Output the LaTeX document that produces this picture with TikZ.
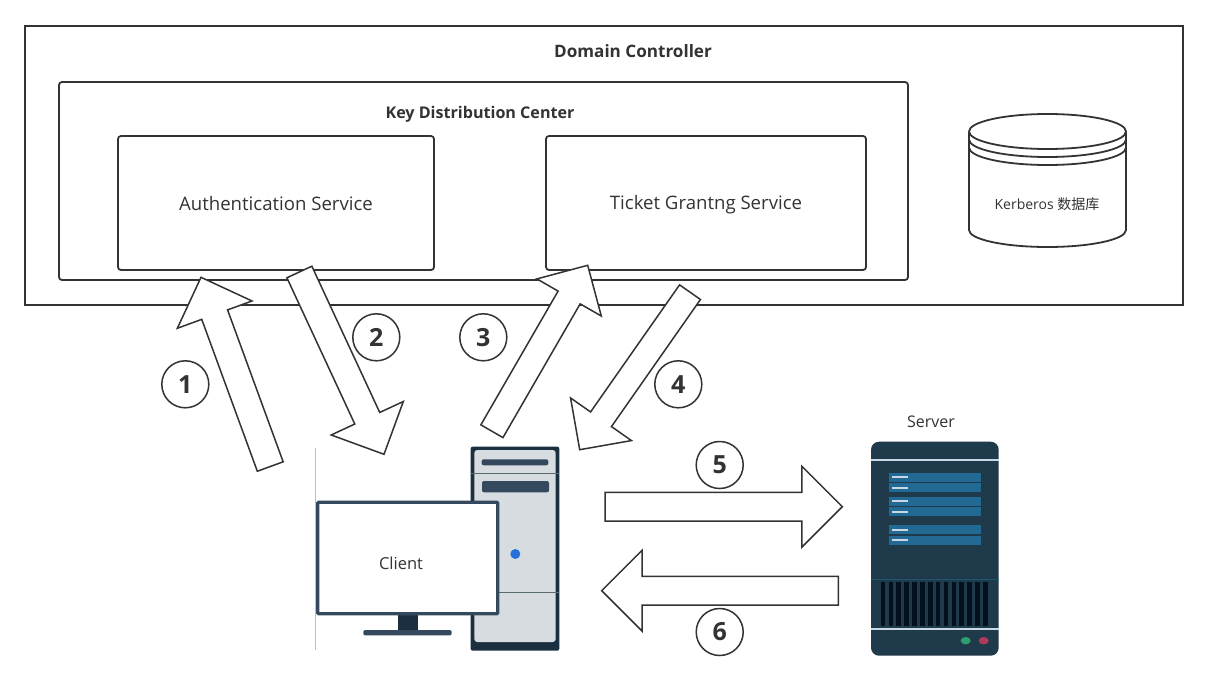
\documentclass[tikz,border=0pt]{standalone}
\usepackage{fontspec}
\setmainfont{Open Sans}
\newfontfamily\cjkfont{Noto Sans CJK SC}
\usetikzlibrary{shapes.arrows,positioning}
\definecolor{inkgray}{HTML}{333333}
\definecolor{towerdark}{HTML}{1C2F40}
\definecolor{slateblue}{HTML}{34495E}
\definecolor{towerlight}{HTML}{D7DCE1}
\definecolor{towerline}{HTML}{5A6B6B}
\definecolor{powerled}{HTML}{2670D8}
\definecolor{serverbody}{HTML}{1F3A4A}
\definecolor{serverbar}{HTML}{226A94}
\definecolor{serverline}{HTML}{C8D8E4}
\definecolor{serverdivider}{HTML}{1F5570}
\definecolor{servervent}{HTML}{03111F}
\definecolor{greenled}{HTML}{2F9E6E}
\definecolor{redled}{HTML}{B03A5B}

\begin{document}
\begin{tikzpicture}[
		x=1pt, y=-1pt,
		box/.style={draw=inkgray, line width=1.8pt, rounded corners=3pt, anchor=north west, inner sep=0pt, outer sep=0pt},
		caption/.style={text=inkgray, font=\fontsize{#1}{#1}\selectfont, inner sep=0pt},
		title/.style={text=inkgray, font=\fontsize{#1}{#1}\selectfont\bfseries, inner sep=0pt},
		bigarrow/.style={single arrow, draw=inkgray, fill=white, line width=1.5pt, inner sep=13pt, outer sep=0pt, single arrow head extend=26pt, anchor=tip},
		smallarrow/.style={bigarrow, inner sep=12pt, single arrow head extend=24.4pt},
		flatarrow/.style={bigarrow, inner sep=13.6pt, single arrow head extend=26pt},
		stepmark/.style={circle, draw=inkgray, line width=1.5pt, minimum size=47pt, inner sep=0pt, text=inkgray, font=\fontsize{25}{25}\selectfont\bfseries},
	]
		\useasboundingbox (0,0) rectangle (1208,680);
		\fill[white] (0,0) rectangle (1208,680);

		% boxes
		\node (dc) [box, rounded corners=0pt, minimum width=1158pt, minimum height=279pt] at (25,26) {};
		\node (kdc) [box, minimum width=849pt, minimum height=198pt] at (59,82) {};
		\node (as) [box, minimum width=316pt, minimum height=134pt] at (118,136) {};
		\node (tgs) [box, minimum width=320pt, minimum height=134pt] at (546,136) {};
		\node (dclabel) [title=17.1] at (633,51) {Domain Controller};
		\node (kdclabel) [title=16.1] at (480,114) {Key Distribution Center};
		\node (aslabel) [caption=18.6] at ([yshift=-1pt]as.center) {Authentication Service};
		\node (tgslabel) [caption=18.6] at ([yshift=-2pt]tgs.center) {Ticket Grantng Service};

		% database
		\draw[inkgray, line width=1.8pt] (969,131.5) -- (969,230) arc[start angle=180, end angle=360, x radius=78.5, y radius=-17] -- (1126,131.5);
		\draw[inkgray, line width=1.8pt] (969,131.5) arc[start angle=180, end angle=540, x radius=78.5, y radius=17.5];
		\draw[inkgray, line width=1.8pt] (969,139.5) arc[start angle=180, end angle=360, x radius=78.5, y radius=-17.5];
		\draw[inkgray, line width=1.8pt] (969,147.5) arc[start angle=180, end angle=360, x radius=78.5, y radius=-17.5];
		\node (db) [caption=14] at (1047,204) {Kerberos {\cjkfont 数据库}};

		% client
		\draw[black!25, line width=1pt] (315.7,448) -- (315.7,650);
		\fill[towerdark, rounded corners=2pt] (470.7,446.7) rectangle (559.3,650.7);
		\fill[towerlight, rounded corners=3pt] (474.3,450) rectangle (555.7,642);
		\fill[towerdark] (555.7,500) rectangle (559.3,642);
		\draw[towerline, line width=1pt] (470.7,473.3) -- (559.3,473.3);
		\draw[towerline, line width=1pt] (499,592.3) -- (559.3,592.3);
		\fill[slateblue, rounded corners=2pt] (481.7,459.3) rectangle (548.3,465.3);
		\fill[slateblue, rounded corners=2pt] (482,481) rectangle (549,492.3);
		\fill[powerled] (515.3,554) circle (5);
		\fill[towerdark] (398,615) rectangle (417.7,630);
		\fill[slateblue, rounded corners=1.5pt] (363.3,630) rectangle (451.7,635.3);
		\node (client) [draw=slateblue, fill=white, line width=3.4pt, rounded corners=1pt, minimum width=180pt, minimum height=111.5pt, inner sep=0pt] at (407.7,558) {};
		\node (clientlabel) [caption=16.5] at (401,563) {Client};

		% server
		\fill[serverbody, rounded corners=8pt] (871,441.7) rectangle (998.7,655.7);
		\fill[serverline] (871,458.8) rectangle (998.7,461.2);
		\fill[serverline] (871,627.5) rectangle (998.7,630);
		\foreach \bary/\dashy in {472.7/477.3, 483.3/487.7, 496.7/501.3, 507.3/511.7, 525.3/530, 535.7/540.3} {
			\fill[serverbar] (889.3,\bary) rectangle (981,\bary+9);
			\fill[serverline] (891.7,\dashy-1) rectangle (908.3,\dashy+1);
		}
		\draw[serverdivider, line width=1pt] (871,579) -- (998.7,579);
		\foreach \vent in {0,...,13} {
			\fill[servervent] (880.7+\vent*7.87,581.7) rectangle (885.4+\vent*7.87,625.7);
		}
		\fill[greenled] (965.7,640.7) ellipse (5 and 3.7);
		\fill[redled] (983.7,640.7) ellipse (5 and 3.7);
		\node (serverlabel) [caption=16] at (931,422) {Server};

		% arrows
		\node (a1) [bigarrow, minimum height=201.5pt, rotate=110.1] at (201,277.3) {};
		\node (a2) [bigarrow, minimum height=201pt, rotate=-65.1] at (384,454.3) {};
		\node (a3) [smallarrow, minimum height=191.6pt, rotate=60] at (587.7,265.3) {};
		\node (a4) [smallarrow, minimum height=192.3pt, rotate=-125] at (579.7,449.7) {};
		\node (a5) [flatarrow, minimum height=237.3pt] at (842.3,506.7) {};
		\node (a6) [flatarrow, minimum height=236.6pt, rotate=180] at (601.7,590.7) {};

		% step numbers
		\node (n1) [stepmark] at (185.3,384.3) {1};
		\node (n2) [stepmark] at (376.3,337.3) {2};
		\node (n3) [stepmark] at (483.3,337.3) {3};
		\node (n4) [stepmark] at (678.3,384.3) {4};
		\node (n5) [stepmark] at (719.7,465) {5};
		\node (n6) [stepmark] at (719.7,632) {6};
	\end{tikzpicture}
\end{document}
